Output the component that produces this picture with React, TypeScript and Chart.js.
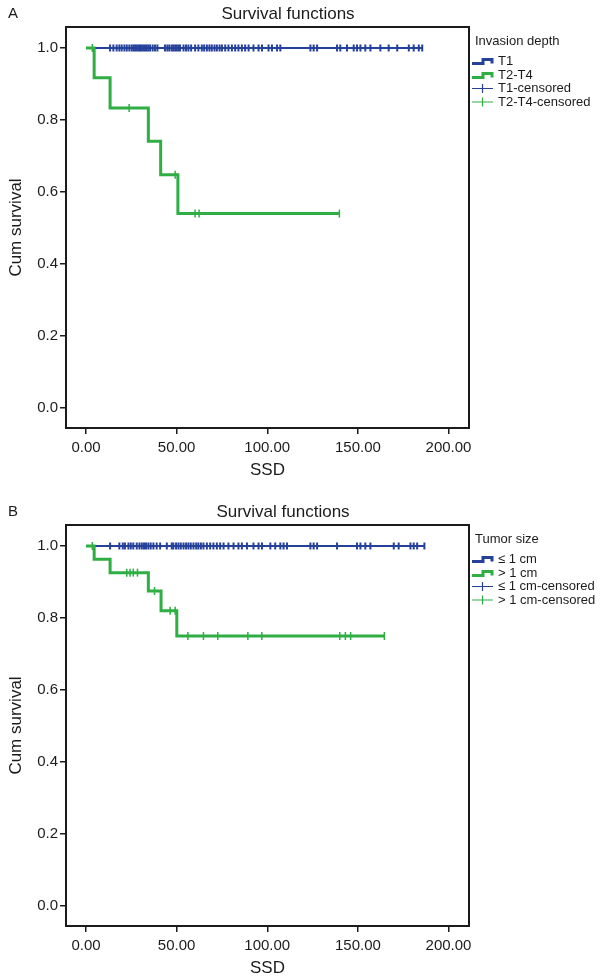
import React, { useEffect, useRef } from "react";
import { Chart, registerables } from "chart.js";

Chart.register(...registerables);

// ---------- shared axis data ----------
const xTickValues = [0, 50, 100, 150, 200];
const yTickValues = [0, 0.2, 0.4, 0.6, 0.8, 1.0];
const xRange = [-11.03, 211.3];
const yRange = [-0.0556, 1.0583];

const chartTitle = "Survival functions";
const xAxisTitle = "SSD";
const yAxisTitle = "Cum survival";

// ---------- Panel A: Invasion depth ----------
const aLegendTitle = "Invasion depth";
const aLegendLabels = ["T1", "T2-T4", "T1-censored", "T2-T4-censored"];

const aT1Times = [0, 185.5];
const aT1Surv = [1, 1];
const aT1CensorTimes = [
  13.3, 15.1, 16.9, 18.4, 19.7, 21.2, 22.5, 23.9, 25.2, 26.2, 27.1, 28.0, 28.9,
  29.8, 30.8, 31.7, 32.6, 33.5, 34.4, 35.4, 36.8, 38.1, 39.4, 43.6, 44.9, 46.0,
  47.3, 48.2, 49.2, 50.1, 51.0, 51.9, 53.8, 55.2, 56.5, 58.0, 60.2, 62.0, 63.9,
  65.2, 66.7, 68.1, 69.4, 70.9, 72.2, 73.7, 75.0, 76.8, 78.6, 80.5, 82.3, 84.1,
  86.0, 87.8, 89.7, 92.4, 95.2, 97.1, 100.7, 102.6, 105.4, 107.2, 123.8, 125.6,
  127.5, 138.5, 140.3, 144.0, 147.7, 149.5, 151.4, 154.1, 156.9, 162.4, 167.0,
  171.7, 178.1, 180.8, 183.6, 185.5,
];

const aT24Times = [0, 4.5, 13.3, 34.4, 41.2, 50.7, 139.8];
const aT24Surv = [1, 0.917, 0.833, 0.741, 0.648, 0.54, 0.54];
const aT24CensorTimes = [3.5, 23.8, 49.2, 60.2, 62.4, 139.8];
const aT24CensorSurv = [1, 0.833, 0.648, 0.54, 0.54, 0.54];

// ---------- Panel B: Tumor size ----------
const bLegendTitle = "Tumor size";
const bLegendLabels = ["≤ 1 cm", "> 1 cm", "≤ 1 cm-censored", "> 1 cm-censored"];

const bSmallTimes = [0, 186.7];
const bSmallSurv = [1, 1];
const bSmallCensorTimes = [
  13.3, 18.4, 20.3, 21.5, 23.4, 24.7, 26.1, 28.0, 29.5, 30.8, 32.0, 33.1, 34.4,
  35.7, 37.2, 39.0, 40.9, 44.6, 47.3, 48.2, 49.7, 51.0, 52.3, 53.8, 55.2, 56.5,
  57.8, 59.3, 60.8, 62.0, 63.4, 64.8, 66.7, 68.5, 70.3, 72.2, 74.0, 75.9, 78.6,
  81.4, 84.1, 86.0, 88.8, 92.4, 95.2, 97.1, 101.7, 104.4, 107.2, 109.0, 110.9,
  123.8, 125.6, 127.5, 138.5, 149.5, 151.4, 154.1, 156.9, 169.8, 172.5, 179.0,
  180.8, 182.7, 186.7,
];

const bLargeTimes = [0, 4.5, 13.3, 34.4, 41.4, 50.1, 164.6];
const bLargeSurv = [1, 0.963, 0.926, 0.875, 0.82, 0.75, 0.75];
const bLargeCensorTimes = [
  3.5, 22.5, 24.3, 26.1, 28.4, 37.8, 46.4, 49.2, 56.2, 64.8, 72.7, 89.3, 97.0,
  140.0, 143.1, 146.0, 164.6,
];
const bLargeCensorSurv = [
  1, 0.926, 0.926, 0.926, 0.926, 0.875, 0.82, 0.82, 0.75, 0.75, 0.75, 0.75,
  0.75, 0.75, 0.75, 0.75, 0.75,
];

// ---------- styling ----------
const FONT = "'Liberation Sans', Arial, Helvetica, sans-serif";
const BLUE = "#26419a";
const GREEN = "#2fae44";
const INK = "#1b1b1b";

type PanelSpec = {
  letter: string;
  titleCenterX: number;
  legendTitle: string;
  legendLabels: string[];
  line1: { x: number; y: number }[];
  line2: { x: number; y: number }[];
  cens1: { x: number; y: number }[];
  cens2: { x: number; y: number }[];
};

const pts = (xs: number[], ys: number[]) => xs.map((x, i) => ({ x, y: ys[i] }));

const decorPlugin = {
  id: "decor",
  afterDraw(chart: any) {
    const spec: PanelSpec = chart.options.plugins.decor.spec;
    const { ctx, chartArea } = chart;
    ctx.save();
    // frame
    ctx.strokeStyle = INK;
    ctx.lineWidth = 2;
    ctx.strokeRect(chartArea.left, chartArea.top, chartArea.right - chartArea.left, chartArea.bottom - chartArea.top);

    ctx.fillStyle = INK;
    ctx.textBaseline = "middle";
    // panel letter
    ctx.font = `15px ${FONT}`;
    ctx.textAlign = "left";
    ctx.fillText(spec.letter, 8, 14);
    // title
    ctx.font = `17px ${FONT}`;
    ctx.textAlign = "center";
    ctx.fillText(chartTitle, spec.titleCenterX, 14);

    // legend
    ctx.font = `13px ${FONT}`;
    ctx.textAlign = "left";
    ctx.fillText(spec.legendTitle, 475, 41);
    const ys = [61, 75, 88.5, 102];
    const colors = [BLUE, GREEN, BLUE, GREEN];
    spec.legendLabels.forEach((lab, i) => {
      const y = ys[i];
      const x0 = 472;
      ctx.strokeStyle = colors[i];
      if (i < 2) {
        ctx.lineWidth = 3;
        ctx.lineJoin = "miter";
        ctx.beginPath();
        ctx.moveTo(x0, y + 2.5);
        ctx.lineTo(x0 + 11, y + 2.5);
        ctx.lineTo(x0 + 11, y - 1.5);
        ctx.lineTo(x0 + 20, y - 1.5);
        ctx.lineTo(x0 + 20, y + 2.5);
        ctx.stroke();
      } else {
        ctx.lineWidth = 1.2;
        ctx.beginPath();
        ctx.moveTo(x0, y);
        ctx.lineTo(x0 + 21, y);
        ctx.moveTo(x0 + 10.5, y - 4.5);
        ctx.lineTo(x0 + 10.5, y + 4.5);
        ctx.stroke();
      }
      ctx.fillStyle = INK;
      ctx.fillText(lab, 498, y);
    });
    ctx.restore();
  },
};

function makeConfig(spec: PanelSpec): any {
  return {
    type: "scatter",
    data: {
      datasets: [
        {
          type: "line",
          data: spec.line1,
          borderColor: BLUE,
          borderWidth: 2,
          stepped: "before",
          pointRadius: 0,
          fill: false,
          order: 4,
        },
        {
          type: "line",
          data: spec.line2,
          borderColor: GREEN,
          borderWidth: 3,
          stepped: "before",
          pointRadius: 0,
          fill: false,
          order: 3,
        },
        {
          type: "scatter",
          data: spec.cens1,
          pointStyle: "line",
          rotation: 90,
          radius: 3.5,
          borderColor: BLUE,
          backgroundColor: BLUE,
          borderWidth: 2,
          order: 2,
        },
        {
          type: "scatter",
          data: spec.cens2,
          pointStyle: "line",
          rotation: 90,
          radius: 4,
          borderColor: GREEN,
          backgroundColor: GREEN,
          borderWidth: 1.5,
          order: 1,
        },
      ],
    },
    options: {
      responsive: false,
      animation: false,
      events: [],
      layout: { padding: { left: 0, top: 27, right: 131, bottom: 0 } },
      plugins: {
        legend: { display: false },
        title: { display: false },
        tooltip: { enabled: false },
        decor: { spec },
      },
      scales: {
        x: {
          type: "linear",
          min: xRange[0],
          max: xRange[1],
          afterBuildTicks: (s: any) => {
            s.ticks = xTickValues.map((v) => ({ value: v }));
          },
          afterFit: (s: any) => {
            s.height = 53;
          },
          grid: { drawOnChartArea: false, drawTicks: true, tickLength: 6, color: INK, lineWidth: 1.5 },
          border: { display: false },
          ticks: {
            autoSkip: false,
            maxRotation: 0,
            padding: 5,
            color: INK,
            font: { family: FONT, size: 15 },
            callback: (v: number) => Number(v).toFixed(2),
          },
          title: {
            display: true,
            text: xAxisTitle,
            color: INK,
            font: { family: FONT, size: 17 },
            padding: { top: 0, bottom: 0.8 },
          },
        },
        y: {
          type: "linear",
          min: yRange[0],
          max: yRange[1],
          afterBuildTicks: (s: any) => {
            s.ticks = yTickValues.map((v) => ({ value: v }));
          },
          afterFit: (s: any) => {
            s.width = 66;
          },
          grid: { drawOnChartArea: false, drawTicks: true, tickLength: 6, color: INK, lineWidth: 1.5 },
          border: { display: false },
          ticks: {
            autoSkip: false,
            padding: 2,
            color: INK,
            font: { family: FONT, size: 15 },
            callback: (v: number) => Number(v).toFixed(1),
          },
          title: {
            display: true,
            text: yAxisTitle,
            color: INK,
            font: { family: FONT, size: 17 },
            padding: { top: 6.3, bottom: 0 },
          },
        },
      },
    },
    plugins: [decorPlugin],
  };
}

const specA: PanelSpec = {
  letter: "A",
  titleCenterX: 288,
  legendTitle: aLegendTitle,
  legendLabels: aLegendLabels,
  line1: pts(aT1Times, aT1Surv),
  line2: pts(aT24Times, aT24Surv),
  cens1: aT1CensorTimes.map((x) => ({ x, y: 1 })),
  cens2: pts(aT24CensorTimes, aT24CensorSurv),
};

const specB: PanelSpec = {
  letter: "B",
  titleCenterX: 283,
  legendTitle: bLegendTitle,
  legendLabels: bLegendLabels,
  line1: pts(bSmallTimes, bSmallSurv),
  line2: pts(bLargeTimes, bLargeSurv),
  cens1: bSmallCensorTimes.map((x) => ({ x, y: 1 })),
  cens2: pts(bLargeCensorTimes, bLargeCensorSurv),
};

function Panel({ spec, top }: { spec: PanelSpec; top: number }) {
  const ref = useRef<HTMLCanvasElement | null>(null);
  useEffect(() => {
    if (!ref.current) return;
    const chart = new Chart(ref.current, makeConfig(spec));
    return () => chart.destroy();
  }, [spec]);
  return (
    <canvas
      ref={ref}
      width={600}
      height={481}
      style={{ position: "absolute", left: 0, top, width: 600, height: 481 }}
    />
  );
}

export default function App() {
  return (
    <div
      style={{
        position: "absolute",
        left: 0,
        top: 0,
        width: 600,
        height: 979,
        background: "#ffffff",
        overflow: "hidden",
      }}
    >
      <Panel spec={specA} top={0} />
      <Panel spec={specB} top={498} />
    </div>
  );
}
